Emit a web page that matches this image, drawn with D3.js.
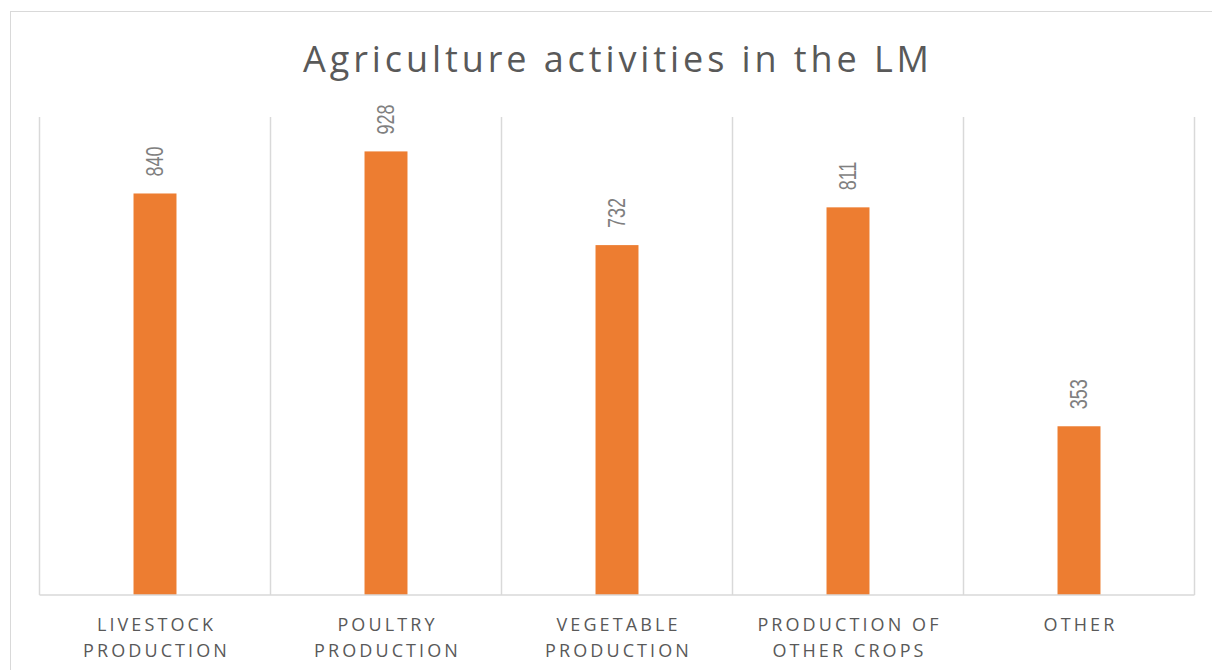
<!DOCTYPE html>
<html>
<head>
<meta charset="utf-8">
<script src="https://cdn.jsdelivr.net/npm/d3@7"></script>
<style>
	body { margin: 0; background: #fff; }
	svg { display: block; }
</style>
</head>
<body>
<svg width="1212" height="670"></svg>
<script>
// chart data
const title = "Agriculture activities in the LM";
const categories = [
	["LIVESTOCK", "PRODUCTION"],
	["POULTRY", "PRODUCTION"],
	["VEGETABLE", "PRODUCTION"],
	["PRODUCTION OF", "OTHER CROPS"],
	["OTHER"],
];
const values = [840, 928, 732, 811, 353];
const yMax = 1000;

const svg = d3.select("svg");
const width = 1212;
const height = 670;
const plot = { left: 39.5, right: 1194.5, top: 117, bottom: 595 };

// outer frame (runs off the right and bottom edge)
svg.append("rect")
	.attr("x", 10.5)
	.attr("y", 11.5)
	.attr("width", 1300)
	.attr("height", 800)
	.attr("fill", "#fff")
	.attr("stroke", "#d9d9d9")
	.attr("stroke-width", 1);

const keys = categories.map((c) => c.join(" "));
const xScale = d3.scaleBand().domain(keys).range([plot.left, plot.right]).padding(0);
const yScale = d3.scaleLinear().domain([0, yMax]).range([plot.bottom, plot.top]);
const barWidth = xScale.bandwidth() * 0.186;

// title
const titleText = svg.append("text")
	.attr("x", 616)
	.attr("y", 72)
	.attr("text-anchor", "middle")
	.attr("font-family", "'Open Sans', sans-serif")
	.attr("font-size", "36px")
	.attr("fill", "#595959")
	.attr("letter-spacing", "2px")
	.text(title);
// stretch spacing so the title spans like the original
let tw = titleText.node().getComputedTextLength();
let extra = (628 - tw) / (title.length - 1);
titleText.attr("letter-spacing", 2 + extra + "px").attr("x", 616 + (2 + extra) / 2);

// vertical gridlines at category boundaries
const g = svg.append("g");
const bounds = keys.map((k) => xScale(k)).concat([plot.right]);
g.selectAll(".grid")
	.data(bounds)
	.join("line")
	.attr("class", "grid")
	.attr("x1", (d) => d)
	.attr("x2", (d) => d)
	.attr("y1", plot.top)
	.attr("y2", plot.bottom)
	.attr("stroke", "#d9d9d9")
	.attr("stroke-width", 1.5);

// bars
g.selectAll(".bar")
	.data(values)
	.join("rect")
	.attr("class", "bar")
	.attr("x", (d, i) => xScale(keys[i]) + xScale.bandwidth() / 2 - barWidth / 2)
	.attr("y", (d) => yScale(d))
	.attr("width", barWidth)
	.attr("height", (d) => yScale(0) - yScale(d))
	.attr("fill", "#ed7d31");

// baseline
g.append("line")
	.attr("x1", plot.left)
	.attr("x2", plot.right)
	.attr("y1", yScale(0))
	.attr("y2", yScale(0))
	.attr("stroke", "#d9d9d9")
	.attr("stroke-width", 1.5);

// value labels, rotated
g.selectAll(".val")
	.data(values)
	.join("text")
	.attr("class", "val")
	.attr("transform", (d, i) =>
		"translate(" + (xScale(keys[i]) + xScale.bandwidth() / 2) + "," + (yScale(d) - 17) + ") scale(1.28,1) rotate(-90)")
	.attr("dy", "0.36em")
	.attr("font-family", "'Liberation Sans', Arial, sans-serif")
	.attr("font-size", "18px")
	.attr("fill", "#7f7f7f")
	.text((d) => d);

// category labels
const cat = g.selectAll(".cat")
	.data(categories)
	.join("text")
	.attr("class", "cat")
	.attr("text-anchor", "middle")
	.attr("font-family", "'Open Sans', sans-serif")
	.attr("font-size", "18px")
	.attr("letter-spacing", "3.1px")
	.attr("fill", "#595959");
cat.selectAll("tspan")
	.data((d, i) => d.map((line) => ({ line, key: keys[i] })))
	.join("tspan")
	.attr("x", (d) => xScale(d.key) + xScale.bandwidth() / 2 + 1.5)
	.attr("y", (d, j) => 630.5 + j * 26)
	.text((d) => d.line);
</script>
</body>
</html>
